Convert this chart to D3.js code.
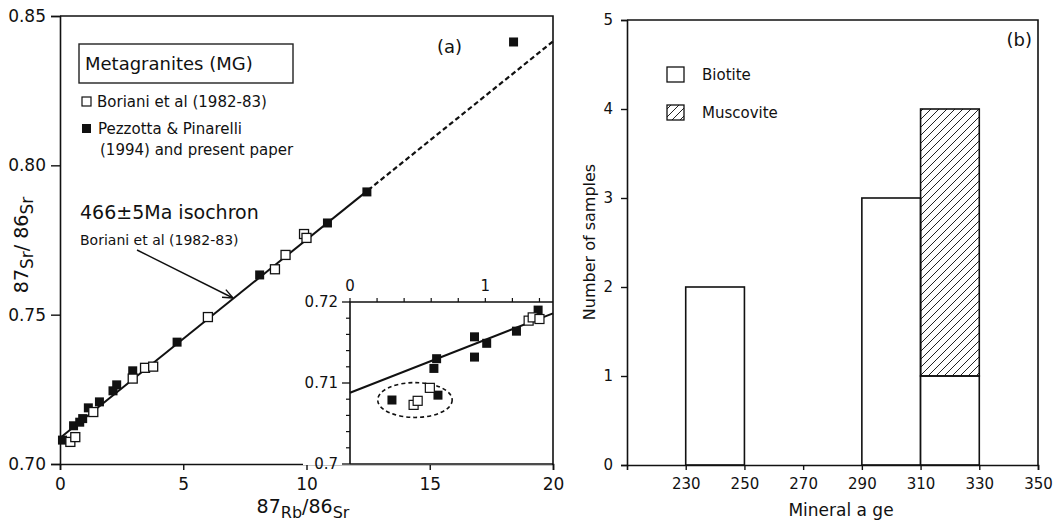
<!DOCTYPE html>
<html>
<head>
<meta charset="utf-8">
<script src="https://cdn.jsdelivr.net/npm/d3@7"></script>
<style>
  body { margin: 0; background: #fff; }
  text { font-family: "DejaVu Sans", Verdana, sans-serif; fill: #111; }
</style>
</head>
<body>
<script>
// ---- panel (a) data: 87Rb/86Sr vs 87Sr/86Sr ----
const borianiMain = [[0.42,0.7074],[0.62,0.7090],[1.35,0.7174],[2.95,0.7286],[3.45,0.7322],[3.78,0.7326],
  [6.0,0.7492],[8.72,0.7652],[9.15,0.7700],[9.9,0.7770],[10.0,0.7757]];
const pezzottaMain = [[0.1,0.7080],[0.55,0.7128],[0.8,0.7140],[0.92,0.7152],[1.15,0.7188],[1.6,0.7208],
  [2.15,0.7245],[2.3,0.7265],[2.95,0.7312],[4.75,0.7408],[8.1,0.7633],[10.85,0.7807],[12.45,0.7911],[18.4,0.8413]];
const isochronSolid = [[0,0.7087],[12.5,0.7917]];
const isochronDashed = [[12.5,0.7917],[20,0.8415]];
const mainXTicks = [0,5,10,15,20];
const mainYTicks = [0.70,0.75,0.80,0.85];

// inset (zoom near origin)
const borianiInset = [[0.47,0.7073],[0.50,0.7078],[0.59,0.7094],[1.32,0.7177],[1.35,0.7181],[1.40,0.7179]];
const pezzottaInset = [[0.31,0.7079],[0.65,0.7085],[0.62,0.7118],[0.64,0.7130],[0.92,0.7157],[0.92,0.7132],
  [1.01,0.7149],[1.23,0.7164],[1.39,0.7190]];
const insetLine = [[0,0.7088],[1.5,0.7186]];
const insetXLabels = [0,1];
const insetXMinor = [0,0.2,0.4,0.6,0.8,1,1.2,1.4];
const insetYLabels = [0.70,0.71,0.72];
const insetYMinor = [0.702,0.704,0.706,0.708,0.712,0.714,0.716,0.718];
const groupEllipse = {cx:0.48, cy:0.7079, rx:0.275, ry:0.00215};

// ---- panel (b) data: mineral ages ----
const binStarts = [230,250,270,290,310];
const biotiteCounts = [2,0,0,3,1];
const muscoviteCounts = [0,0,0,0,3];
const ageTicks = [230,250,270,290,310,330,350];
const countTicks = [0,1,2,3,4,5];

const svg = d3.select("body").append("svg").attr("width",1062).attr("height",524);

const defs = svg.append("defs");
const pat = defs.append("pattern").attr("id","hatch").attr("patternUnits","userSpaceOnUse")
  .attr("width",8).attr("height",8);
pat.append("path").attr("d","M-2,2 l4,-4 M0,8 l8,-8 M6,10 l4,-4")
  .attr("stroke","#222").attr("stroke-width",1);

// ================= panel (a) =================
const xA = d3.scaleLinear().domain([0,20]).range([60,553]);
const yA = d3.scaleLinear().domain([0.70,0.85]).range([464,16]);
const gA = svg.append("g");

const axL = gA.append("g").attr("transform","translate(60,0)")
  .call(d3.axisLeft(yA).tickValues(mainYTicks).tickFormat(d3.format(".2f")).tickSize(9).tickPadding(5));
const axB = gA.append("g").attr("transform","translate(0,464)")
  .call(d3.axisBottom(xA).tickValues(mainXTicks).tickFormat(d3.format("d")).tickSize(6).tickPadding(8));
[axL, axB].forEach(a => {
  a.select(".domain").attr("stroke","#111").attr("stroke-width",1.6);
  a.selectAll(".tick line").attr("stroke","#111").attr("stroke-width",1.4);
  a.selectAll(".tick text").style("font-size","17px").attr("fill","#222");
});
// frame top + right
gA.append("path").attr("d",`M${xA(0)},${yA(0.85)}H${xA(20)}V${yA(0.70)}`)
  .attr("fill","none").attr("stroke","#111").attr("stroke-width",1.6);

const lineA = d3.line().x(d => xA(d[0])).y(d => yA(d[1]));
gA.append("path").attr("d",lineA(isochronSolid)).attr("stroke","#111").attr("stroke-width",2).attr("fill","none");
gA.append("path").attr("d",lineA(isochronDashed)).attr("stroke","#111").attr("stroke-width",2.2)
  .attr("stroke-dasharray","5,3").attr("fill","none");

const sq = 9;
gA.selectAll("rect.pz").data(pezzottaMain).join("rect").attr("class","pz")
  .attr("x",d => xA(d[0])-sq/2).attr("y",d => yA(d[1])-sq/2).attr("width",sq).attr("height",sq)
  .attr("fill","#111");
gA.selectAll("rect.bo").data(borianiMain).join("rect").attr("class","bo")
  .attr("x",d => xA(d[0])-sq/2).attr("y",d => yA(d[1])-sq/2).attr("width",sq).attr("height",sq)
  .attr("fill","#fff").attr("stroke","#111").attr("stroke-width",1.3);

// legend box
gA.append("rect").attr("x",79).attr("y",44).attr("width",214).attr("height",39)
  .attr("fill","#fff").attr("stroke","#222").attr("stroke-width",1.4);
gA.append("text").attr("x",85).attr("y",70).style("font-size","18px").text("Metagranites (MG)");
gA.append("rect").attr("x",82).attr("y",97).attr("width",9).attr("height",9)
  .attr("fill","#fff").attr("stroke","#111").attr("stroke-width",1.2);
gA.append("text").attr("x",97).attr("y",107).style("font-size","15px").text("Boriani et al (1982-83)");
gA.append("rect").attr("x",82).attr("y",124).attr("width",9).attr("height",9).attr("fill","#111");
gA.append("text").attr("x",98).attr("y",134).style("font-size","15px").text("Pezzotta & Pinarelli");
gA.append("text").attr("x",100).attr("y",155).style("font-size","15px").text("(1994) and present paper");

gA.append("text").attr("x",437).attr("y",53).style("font-size","18px").text("(a)");

// isochron annotation + arrow
gA.append("text").attr("x",80).attr("y",219).style("font-size","19px").text("466\u00b15Ma isochron");
gA.append("text").attr("x",80).attr("y",245).style("font-size","14px").text("Boriani et al (1982-83)");
const ax0 = [137,250], ax1 = [233,298];
gA.append("line").attr("x1",ax0[0]).attr("y1",ax0[1]).attr("x2",ax1[0]).attr("y2",ax1[1])
  .attr("stroke","#111").attr("stroke-width",1.4);
const ang = Math.atan2(ax1[1]-ax0[1], ax1[0]-ax0[0]);
[ang+0.4, ang-0.4].forEach(a => {
  gA.append("line").attr("x1",ax1[0]).attr("y1",ax1[1])
    .attr("x2",ax1[0]-11*Math.cos(a)).attr("y2",ax1[1]-11*Math.sin(a))
    .attr("stroke","#111").attr("stroke-width",1.4);
});

// axis titles
gA.append("text").attr("x",303).attr("y",513).attr("text-anchor","middle").style("font-size","19px")
  .call(t => {
    t.append("tspan").text("87");
    t.append("tspan").attr("dy",5).style("font-size","16px").text("Rb");
    t.append("tspan").attr("dy",-5).text("/86");
    t.append("tspan").attr("dy",5).style("font-size","16px").text("Sr");
  });
gA.append("text").attr("transform","translate(28,245) rotate(-90)").attr("text-anchor","middle")
  .style("font-size","19px")
  .call(t => {
    t.append("tspan").text("87");
    t.append("tspan").attr("dy",5).style("font-size","17px").text("Sr");
    t.append("tspan").attr("dy",-5).text("/ 86");
    t.append("tspan").attr("dy",5).style("font-size","17px").text("Sr");
  });

// ---- inset ----
const xI = d3.scaleLinear().domain([0,1.5]).range([350,553]);
const yI = d3.scaleLinear().domain([0.70,0.72]).range([464,302]);
const gI = svg.append("g");
gI.append("rect").attr("x",303).attr("y",270).attr("width",249).attr("height",195).attr("fill","#fff");
gI.append("path").attr("d",`M${xI(0)},${yI(0.70)}V${yI(0.72)}H${xI(1.5)}`)
  .attr("fill","none").attr("stroke","#111").attr("stroke-width",1.6);
gI.append("path").attr("d",`M${xI(0)},${yI(0.70)}H${xI(1.5)}`)
  .attr("fill","none").attr("stroke","#111").attr("stroke-width",1.6);
gI.selectAll("line.xm").data(insetXMinor).join("line").attr("class","xm")
  .attr("x1",d => xI(d)).attr("x2",d => xI(d)).attr("y1",yI(0.72)).attr("y2",yI(0.72)-4)
  .attr("stroke","#111").attr("stroke-width",1.2);
gI.selectAll("text.xl").data(insetXLabels).join("text").attr("class","xl")
  .attr("x",d => xI(d)).attr("y",yI(0.72)-11).attr("text-anchor","middle").style("font-size","15px")
  .text(d => d);
gI.selectAll("line.ym").data(insetYMinor).join("line").attr("class","ym")
  .attr("x1",xI(0)).attr("x2",xI(0)-4).attr("y1",d => yI(d)).attr("y2",d => yI(d))
  .attr("stroke","#111").attr("stroke-width",1.2);
gI.selectAll("line.yM").data(insetYLabels).join("line").attr("class","yM")
  .attr("x1",xI(0)).attr("x2",xI(0)-8).attr("y1",d => yI(d)).attr("y2",d => yI(d))
  .attr("stroke","#111").attr("stroke-width",1.3);
gI.selectAll("text.yl").data(insetYLabels).join("text").attr("class","yl")
  .attr("x",xI(0)-12).attr("y",d => yI(d)).attr("dy","0.35em").attr("text-anchor","end")
  .style("font-size","15px").text(d => d === 0.70 ? "0.7" : d3.format(".2f")(d));

const lineI = d3.line().x(d => xI(d[0])).y(d => yI(d[1]));
gI.append("path").attr("d",lineI(insetLine)).attr("stroke","#111").attr("stroke-width",2).attr("fill","none");
gI.append("ellipse").attr("cx",xI(groupEllipse.cx)).attr("cy",yI(groupEllipse.cy))
  .attr("rx",xI(groupEllipse.rx)-xI(0)).attr("ry",yI(0.70)-yI(0.70+groupEllipse.ry))
  .attr("fill","none").attr("stroke","#111").attr("stroke-width",1.6).attr("stroke-dasharray","4,3");
gI.selectAll("rect.pz").data(pezzottaInset).join("rect").attr("class","pz")
  .attr("x",d => xI(d[0])-sq/2).attr("y",d => yI(d[1])-sq/2).attr("width",sq).attr("height",sq)
  .attr("fill","#111");
gI.selectAll("rect.bo").data(borianiInset).join("rect").attr("class","bo")
  .attr("x",d => xI(d[0])-sq/2).attr("y",d => yI(d[1])-sq/2).attr("width",sq).attr("height",sq)
  .attr("fill","#fff").attr("stroke","#111").attr("stroke-width",1.2);

// ================= panel (b) =================
const xB = d3.scaleLinear().domain([210,350]).range([627,1038]);
const yB = d3.scaleLinear().domain([0,5]).range([465,20]);
const gB = svg.append("g");

const bins = binStarts.map((s,i) => ({s, bio: biotiteCounts[i], mus: muscoviteCounts[i]}));
gB.selectAll("rect.bio").data(bins.filter(d => d.bio > 0)).join("rect").attr("class","bio")
  .attr("x",d => xB(d.s)).attr("width",d => xB(d.s+20)-xB(d.s))
  .attr("y",d => yB(d.bio)).attr("height",d => yB(0)-yB(d.bio))
  .attr("fill","#fff").attr("stroke","#111").attr("stroke-width",1.6);
gB.selectAll("rect.mus").data(bins.filter(d => d.mus > 0)).join("rect").attr("class","mus")
  .attr("x",d => xB(d.s)).attr("width",d => xB(d.s+20)-xB(d.s))
  .attr("y",d => yB(d.bio+d.mus)).attr("height",d => yB(d.bio)-yB(d.bio+d.mus))
  .attr("fill","url(#hatch)").attr("stroke","#111").attr("stroke-width",1.6);

const bL = gB.append("g").attr("transform",`translate(${xB(210)},0)`)
  .call(d3.axisLeft(yB).tickValues(countTicks).tickFormat(d3.format("d")).tickSize(6).tickPadding(8));
const bB = gB.append("g").attr("transform",`translate(0,${yB(0)})`)
  .call(d3.axisBottom(xB).tickValues(ageTicks).tickFormat(d3.format("d")).tickSize(5).tickPadding(8));
[bL, bB].forEach(a => {
  a.select(".domain").attr("stroke","#111").attr("stroke-width",1.6);
  a.selectAll(".tick line").attr("stroke","#111").attr("stroke-width",1.4);
  a.selectAll(".tick text").style("font-size","15px").attr("fill","#222");
});
gB.append("path").attr("d",`M${xB(210)},${yB(5)}H${xB(350)}V${yB(0)}`)
  .attr("fill","none").attr("stroke","#111").attr("stroke-width",1.6);

gB.append("text").attr("x",1032).attr("y",46).attr("text-anchor","end").style("font-size","18px").text("(b)");
gB.append("rect").attr("x",667).attr("y",67).attr("width",17).attr("height",15)
  .attr("fill","#fff").attr("stroke","#111").attr("stroke-width",1.3);
gB.append("text").attr("x",702).attr("y",80).style("font-size","15px").text("Biotite");
gB.append("rect").attr("x",667).attr("y",105).attr("width",17).attr("height",15)
  .attr("fill","url(#hatch)").attr("stroke","#111").attr("stroke-width",1.3);
gB.append("text").attr("x",702).attr("y",118).style("font-size","15px").text("Muscovite");

gB.append("text").attr("x",841).attr("y",516).attr("text-anchor","middle").style("font-size","17px")
  .text("Mineral a ge");
gB.append("text").attr("transform","translate(595,242) rotate(-90)").attr("text-anchor","middle")
  .style("font-size","16px").text("Number of samples");
</script>
</body>
</html>
